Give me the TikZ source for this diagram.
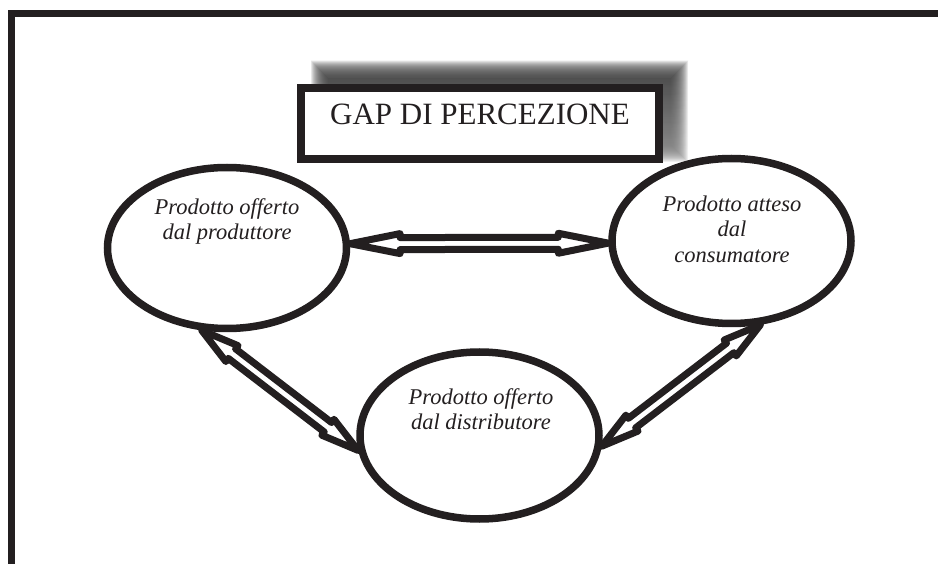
\documentclass[tikz,border=0pt]{standalone}
\usepackage{fontspec}
\setmainfont{Liberation Serif}
\usetikzlibrary{calc,shapes.geometric}

\definecolor{ink}{HTML}{231F20}
\definecolor{shade}{HTML}{5A6270}

% centred lines stacked with a fixed baseline distance; the box baseline is the first line's
\newcommand\stackedlines[1]{\vtop{\baselineskip=25.5pt\lineskiplimit=-100pt\halign{\hfil##\hfil\cr#1\crcr}}}

% hollow double-headed arrow between two points: #1, #2 tips, #3 head length
\newcommand\hollowarrow[3]{%
  \coordinate (ha) at ($(#1)!#3!(#2)$);
  \coordinate (hb) at ($(#2)!#3!(#1)$);
  \draw[arrowline] (#1)
    -- ($(ha)!10pt!90:(#2)$) -- ($(ha)!6pt!90:(#2)$)
    -- ($(hb)!6pt!-90:(#1)$) -- ($(hb)!10pt!-90:(#1)$)
    -- (#2)
    -- ($(hb)!10pt!90:(#1)$) -- ($(hb)!6pt!90:(#1)$)
    -- ($(ha)!6pt!-90:(#2)$) -- ($(ha)!10pt!-90:(#2)$)
    -- cycle;
}

\tikzset{
  frame/.style={draw=ink, line width=7pt, line join=miter},
  oval/.style={ellipse, draw=ink, line width=7.5pt, minimum width=239pt, inner sep=0pt},
  ovaltext/.style={anchor=base, inner sep=0pt, text=ink, font=\fontsize{22.5}{25.5}\selectfont\itshape},
  titlebox/.style={rectangle, draw=ink, fill=white, line width=8pt, minimum width=358pt,
    minimum height=71pt, inner sep=0pt, text=ink, font=\fontsize{31}{36}\selectfont,
    text height=20.5pt, text depth=17.5pt},
  arrowline/.style={draw=ink, line width=7pt, line join=round, fill=white},
}

\begin{document}
\begin{tikzpicture}[x=1pt, y=-1pt]
  \useasboundingbox (0,0) rectangle (938,564);
  \fill[white] (0,0) rectangle (938,564);

  % outer frame: top and left sides only
  \draw[frame] (938,13.5) -- (11.5,13.5) -- (11.5,564);

  % soft shadow behind the title box, built from stacked translucent layers
  \foreach \k in {0,...,17} {
    \fill[shade, opacity=0.065]
      ({311+1*\k},{61+1*\k}) rectangle ({688-1*\k},{162-1*\k});
  }

  % title
  \node[titlebox] (title) at (480,123.5) {GAP DI PERCEZIONE};

  % the three ovals
  \node[oval, minimum height=161pt] (e1) at (227,248) {};
  \node[oval, minimum height=165pt] (e2) at (731.5,241) {};
  \node[oval, minimum height=167pt] (e3) at (479.5,435.5) {};

  \node[ovaltext] (e1t) at (227,214.5) {\stackedlines{Prodotto offerto\cr dal produttore}};
  \node[ovaltext] (e2t) at (732,211.5) {\stackedlines{Prodotto atteso\cr dal\cr consumatore}};
  \node[ovaltext] (e3t) at (481,404) {\stackedlines{Prodotto offerto\cr dal distributore}};

  % two-way links between the ovals
  \hollowarrow{e1.2}{e2.181}{50pt}
  \hollowarrow{e1.253}{e3.187.5}{38pt}
  \hollowarrow{e2.-71}{e3.-5.5}{38pt}
\end{tikzpicture}
\end{document}
